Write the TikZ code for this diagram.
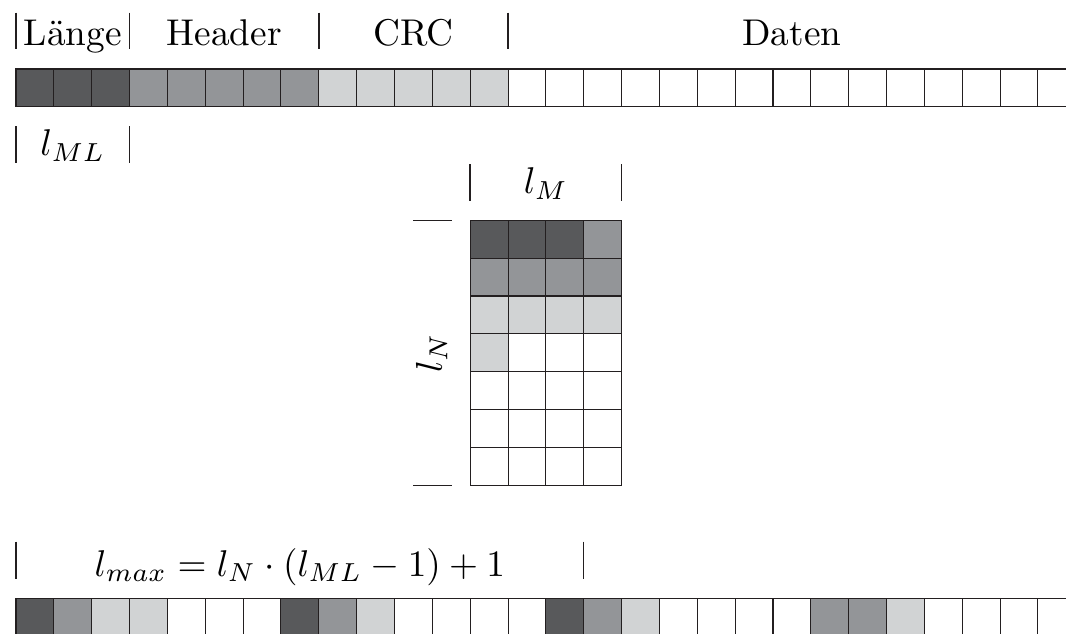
\documentclass[tikz,border=0pt]{standalone}
\definecolor{dk}{HTML}{58595B}
\definecolor{md}{HTML}{939598}
\definecolor{lt}{HTML}{D1D3D4}
\definecolor{linec}{HTML}{231F20}
\tikzset{
  cell/.style={draw=linec,line width=0.8pt,minimum size=1cm,inner sep=0pt,outer sep=0pt},
  bar/.style={line width=1.1pt,draw=linec},
  lbl/.style={anchor=base,inner sep=0pt,font=\normalsize,scale=2.8}
}
\newcommand\setcellcol[1]{\ifnum#1<3 \def\col{dk}\else\ifnum#1<8 \def\col{md}\else\ifnum#1<13 \def\col{lt}\else\def\col{white}\fi\fi\fi}
\begin{document}
\begin{tikzpicture}
\useasboundingbox (-0.4227,0) rectangle (27.741,-16.75);
\clip (-0.4227,0) rectangle (27.741,-16.75);
% top row
\foreach \i in {0,...,27}{
  \setcellcol{\i}
  \node[cell,fill=\col] (t\i) at (\i+0.5,-2.323) {};
}
% matrix (row-wise filling)
\foreach \r in {0,...,6}{
  \foreach \c in {0,...,3}{
    \pgfmathtruncatemacro\k{\r*4+\c}
    \setcellcol{\k}
    \node[cell,fill=\col] (m\r\c) at (12.5+\c,-6.320-\r) {};
  }
}
% bottom row (column-wise reading)
\foreach \p in {0,...,27}{
  \pgfmathtruncatemacro\rr{mod(\p,7)}
  \pgfmathtruncatemacro\cc{div(\p,7)}
  \pgfmathtruncatemacro\k{\rr*4+\cc}
  \setcellcol{\k}
  \node[cell,fill=\col] (b\p) at (\p+0.5,-16.307) {};
}
% labels
\node[lbl] (laenge) at (1.5,-1.215) {Länge};
\node[lbl] (header) at (5.5,-1.215) {Header};
\node[lbl] (crc) at (10.5,-1.215) {CRC};
\node[lbl] (daten) at (20.5,-1.215) {Daten};
\node[lbl] (lml) at (1.5,-4.12) {$l_{ML}$};
\node[lbl] (lm) at (14,-5.12) {$l_M$};
\node[lbl,rotate=90] (ln) at (11.25,-9.32) {$l_N$};
\node[lbl] (lmax) at (7.5,-15.22) {$l_{max} = l_N \cdot (l_{ML}-1)+1$};
% bars
\foreach \x in {0,3,8,13}{\draw[bar] (\x,-0.3355) -- (\x,-1.3025);}
\foreach \x in {0,3}{\draw[bar] (\x,-3.329) -- (\x,-4.314);}
\foreach \x in {12,16}{\draw[bar] (\x,-4.333) -- (\x,-5.303);}
\foreach \y in {-5.820,-12.820}{\draw[bar] (10.497,\y) -- (11.511,\y);}
\foreach \x in {0,15}{\draw[bar] (\x,-14.312) -- (\x,-15.305);}
\end{tikzpicture}
\end{document}
